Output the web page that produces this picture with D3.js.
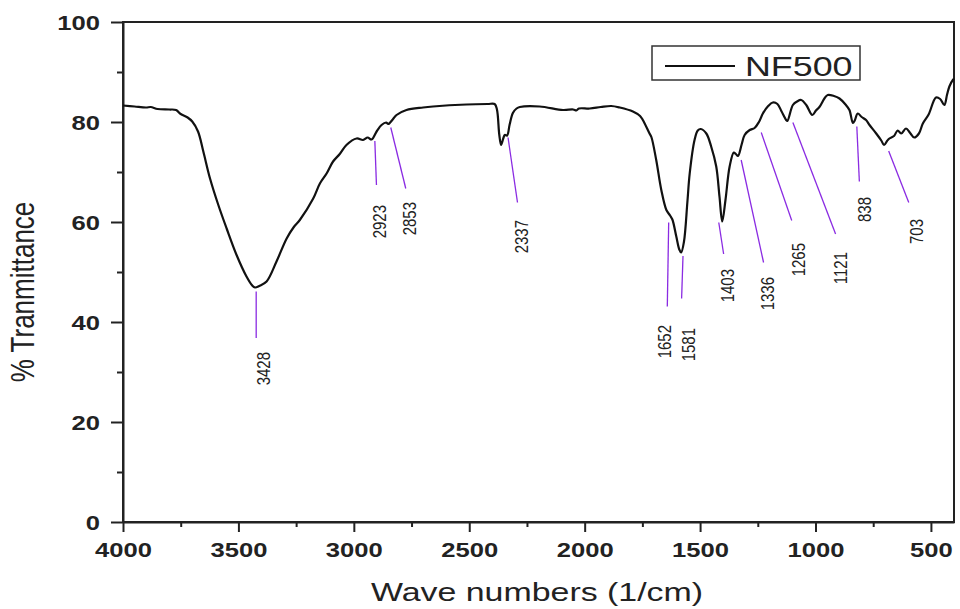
<!DOCTYPE html>
<html>
<head>
<meta charset="utf-8">
<script src="https://cdn.jsdelivr.net/npm/d3@7/dist/d3.min.js"></script>
<style>
  body { margin: 0; background: #fff; }
  svg { display: block; font-family: "Liberation Sans", Arial, sans-serif; }
</style>
</head>
<body>
<svg id="main" width="960" height="609"></svg>
<script>
// spectrum (wave number, % transmittance)
const waveNumbers = [4000, 3950, 3900, 3880, 3850, 3800, 3770, 3750, 3720, 3700, 3675, 3652, 3623, 3587, 3551, 3508, 3465, 3440, 3428, 3410, 3378, 3335, 3291, 3260, 3234, 3176, 3147, 3118, 3090, 3061, 3032, 2988, 2960, 2940, 2923, 2900, 2880, 2860, 2851, 2830, 2815, 2772, 2700, 2657, 2512, 2420, 2390, 2380, 2370, 2362, 2352, 2346, 2336, 2325, 2311, 2295, 2281, 2195, 2094, 2050, 2036, 2025, 1978, 1930, 1885, 1848, 1791, 1760, 1748, 1719, 1711, 1690, 1668, 1646, 1630, 1620, 1603, 1590, 1582, 1570, 1555, 1545, 1524, 1510, 1497, 1473, 1452, 1430, 1416, 1404, 1390, 1372, 1354, 1345, 1336, 1320, 1307, 1285, 1264, 1245, 1228, 1205, 1185, 1165, 1148, 1127, 1122, 1098, 1080, 1062, 1040, 1014, 998, 983, 960, 947, 920, 896, 870, 853, 838, 830, 817, 800, 781, 766, 737, 715, 703, 690, 680, 660, 644, 629, 608, 590, 572, 552, 535, 510, 478, 460, 442, 430, 420, 405, 400];
const transmittance = [83.3, 83.1, 82.9, 83.0, 82.6, 82.5, 82.4, 81.6, 80.9, 80.1, 78.1, 74.1, 68.7, 63.4, 58.7, 53.4, 49.1, 47.3, 46.9, 47.2, 48.1, 52.1, 56.7, 59.0, 60.4, 64.7, 67.7, 69.7, 72.1, 73.6, 75.4, 76.7, 76.4, 76.9, 76.5, 78.2, 79.4, 79.9, 79.6, 80.6, 81.4, 82.4, 82.9, 83.1, 83.5, 83.6, 83.6, 82.5, 77.5, 75.4, 76.8, 77.4, 77.3, 79.5, 81.8, 82.7, 83.0, 83.1, 82.4, 82.5, 82.3, 82.7, 82.7, 83.0, 83.2, 82.9, 82.1, 81.2, 80.4, 77.7, 77.0, 72.4, 66.4, 62.4, 61.3, 60.5, 57.1, 54.5, 53.9, 56.0, 64.0, 69.7, 76.4, 78.3, 78.6, 77.7, 75.1, 71.1, 65.1, 60.1, 64.4, 71.1, 73.9, 73.6, 73.2, 75.5, 77.4, 78.4, 78.8, 80.0, 81.7, 83.2, 83.9, 83.6, 82.2, 80.4, 80.2, 83.4, 84.1, 84.4, 83.4, 81.4, 82.3, 83.0, 84.8, 85.4, 85.2, 84.7, 83.5, 82.4, 79.8, 80.3, 81.7, 81.0, 80.4, 79.4, 77.7, 76.3, 75.4, 76.2, 76.7, 77.2, 78.3, 77.7, 78.7, 77.8, 76.9, 77.7, 79.7, 81.5, 84.9, 84.6, 83.4, 85.5, 87.1, 88.4, 88.6];

const seriesName = 'NF500';
const xMajorTicks = [4000, 3500, 3000, 2500, 2000, 1500, 1000, 500];
const xMinorTicks = [3750, 3250, 2750, 2250, 1750, 1250, 750];
const yMajorTicks = [0, 20, 40, 60, 80, 100];
const yMinorTicks = [10, 30, 50, 70, 90];

// peak annotations: label, line start (wn, %T), line end, label top
const peakLabels = ['3428', '2923', '2853', '2337', '1652', '1581', '1403', '1336', '1265', '1121', '838', '703'];
const peakFromWn = [3423, 2909, 2840, 2332, 1636, 1574, 1419, 1322, 1235, 1098, 821, 683];
const peakFromT = [46.1, 76.2, 78.9, 76.9, 59.9, 53.2, 59.9, 72.4, 77.9, 79.9, 79.1, 74.2];
const peakToWn = [3423, 2902, 2775, 2291, 1642, 1580, 1398, 1225, 1103, 913, 810, 596];
const peakToT = [36.8, 67.4, 66.7, 63.9, 43.1, 44.7, 53.6, 51.9, 60.3, 57.6, 68.1, 63.9];
const labelWn = [3394, 2892, 2762, 2274, 1658, 1554, 1385, 1212, 1074, 892, 792, 563];
const labelT = [34.0, 63.4, 64.0, 60.4, 39.4, 38.8, 50.6, 49.0, 55.8, 54.0, 65.0, 60.6];

const sx = 1.28; // the picture is stretched sideways, so text is too
const plotLeft = 123, plotRight = 954, plotTop = 22, plotBottom = 522;

const svg = d3.select('#main');

const x = d3.scaleLinear().domain([4000, 400]).range([plotLeft, plotRight]);
const y = d3.scaleLinear().domain([0, 100]).range([plotBottom, plotTop]);

// frame
svg.append('rect')
  .attr('x', plotLeft).attr('y', plotTop)
  .attr('width', plotRight - plotLeft).attr('height', plotBottom - plotTop)
  .attr('fill', 'none').attr('stroke', '#222').attr('stroke-width', 2);

// y axis
let yAxis = svg.append('g')
  .attr('transform', `translate(${plotLeft},0)`)
  .call(d3.axisLeft(y).tickValues(yMajorTicks).tickSize(12).tickSizeOuter(0).tickFormat(d3.format('d')));
svg.append('g')
  .attr('transform', `translate(${plotLeft},0)`)
  .call(d3.axisLeft(y).tickValues(yMinorTicks).tickSize(6).tickSizeOuter(0).tickFormat(''))
  .call(g => g.select('.domain').remove());

// x axis
let xAxis = svg.append('g')
  .attr('transform', `translate(0,${plotBottom})`)
  .call(d3.axisBottom(x).tickValues(xMajorTicks).tickSize(10).tickSizeOuter(0).tickFormat(d3.format('d')));
svg.append('g')
  .attr('transform', `translate(0,${plotBottom})`)
  .call(d3.axisBottom(x).tickValues(xMinorTicks).tickSize(5).tickSizeOuter(0).tickFormat(''))
  .call(g => g.select('.domain').remove());

svg.selectAll('.domain').attr('stroke', '#222').attr('stroke-width', 2);
svg.selectAll('.tick line').attr('stroke', '#222').attr('stroke-width', 2);

yAxis.selectAll('text')
  .attr('x', null).attr('dy', null)
  .attr('transform', `translate(-23,7) scale(${sx},1)`)
  .attr('font-size', 20).attr('font-weight', 'bold').attr('fill', '#222')
  .attr('font-family', '"Liberation Sans", Arial, sans-serif');

xAxis.selectAll('text')
  .attr('y', null).attr('dy', null)
  .attr('transform', `translate(0,35) scale(${sx},1)`)
  .attr('font-size', 20).attr('font-weight', 'bold').attr('fill', '#222')
  .attr('font-family', '"Liberation Sans", Arial, sans-serif');

// axis titles
svg.append('text')
  .attr('transform', `translate(537,601) scale(${sx},1)`)
  .attr('text-anchor', 'middle')
  .attr('font-size', 26.5).attr('fill', '#222')
  .text('Wave numbers (1/cm)');

svg.append('text')
  .attr('transform', `translate(34,292) scale(${sx},1) rotate(-90)`)
  .attr('text-anchor', 'middle')
  .attr('font-size', 26).attr('fill', '#222')
  .text('% Tranmittance');

// spectrum
let spectrum = waveNumbers.map((w, i) => [w, transmittance[i]]);
let line = d3.line()
  .x(d => x(d[0]))
  .y(d => y(d[1]))
  .curve(d3.curveCatmullRom.alpha(0.5));

svg.append('path')
  .datum(spectrum)
  .attr('d', line)
  .attr('fill', 'none')
  .attr('stroke', '#111')
  .attr('stroke-width', 2.2)
  .attr('stroke-linejoin', 'round');

// peak markers
let peaks = peakLabels.map((label, i) => ({
  label,
  x1: peakFromWn[i], y1: peakFromT[i],
  x2: peakToWn[i], y2: peakToT[i],
  lx: labelWn[i], ly: labelT[i]
}));

let marks = svg.append('g').attr('class', 'peaks');
marks.selectAll('line').data(peaks).join('line')
  .attr('x1', d => x(d.x1)).attr('y1', d => y(d.y1))
  .attr('x2', d => x(d.x2)).attr('y2', d => y(d.y2))
  .attr('stroke', '#8a2be2')
  .attr('stroke-width', 1.3);

marks.selectAll('text').data(peaks).join('text')
  .attr('transform', d => `translate(${x(d.lx) + 7},${y(d.ly)}) scale(${sx},1) rotate(-90)`)
  .attr('text-anchor', 'end')
  .attr('font-size', 15)
  .attr('fill', '#222')
  .text(d => d.label);

// legend
let legend = svg.append('g').attr('transform', 'translate(652,46)');
legend.append('rect')
  .attr('width', 208).attr('height', 34)
  .attr('fill', '#fff').attr('stroke', '#333').attr('stroke-width', 1.5);
legend.append('line')
  .attr('x1', 13).attr('x2', 83).attr('y1', 20).attr('y2', 20)
  .attr('stroke', '#111').attr('stroke-width', 2.2);
legend.append('text')
  .attr('transform', `translate(93,30) scale(${sx},1)`)
  .attr('font-size', 28).attr('fill', '#222')
  .text(seriesName);
</script>
</body>
</html>
